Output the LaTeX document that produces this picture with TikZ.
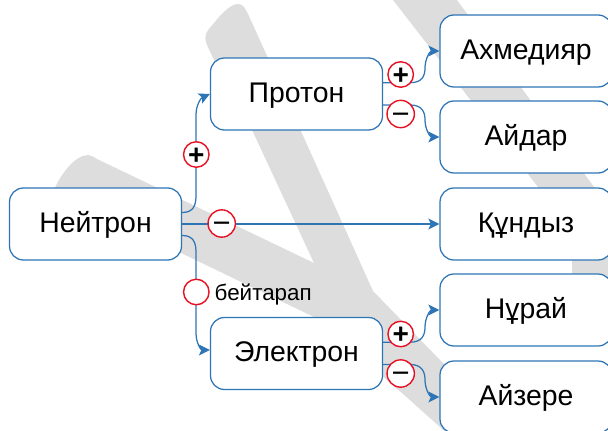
\documentclass[tikz,border=0pt]{standalone}
\usepackage{fontspec}
\setmainfont{Liberation Sans}
\usetikzlibrary{arrows.meta,calc}
\definecolor{linkblue}{HTML}{2E75B6}
\definecolor{ringred}{HTML}{E81123}
\definecolor{backgray}{HTML}{DDDDDD}
\tikzset{
  mybox/.style={draw=linkblue,fill=white,line width=1.25pt,rounded corners=14pt,minimum width=172pt,minimum height=72pt,inner sep=0pt,font=\fontsize{28.4}{30}\selectfont,text=black,text height=21pt,text depth=4.4pt},
  signcirc/.style={draw=ringred,fill=white,line width=1.4pt,circle,minimum size=25.5pt,inner sep=0pt,text=black,text height=19.5pt,text depth=0pt},
  plussign/.style={signcirc,font=\fontsize{28}{28}\selectfont\bfseries},
  minussign/.style={signcirc,font=\fontsize{31}{31}\selectfont,text height=20.5pt},
  link/.style={draw=linkblue,line width=1.25pt,-{Stealth[length=11pt,width=11pt,inset=2.5pt]}},
  plainlabel/.style={font=\fontsize{22.4}{24}\selectfont,text=black,inner sep=0pt}
}
\begin{document}
\begin{tikzpicture}[x=1pt,y=-1pt]
\useasboundingbox (0,0) rectangle (608,431);
\clip (0,0) rectangle (608,431);
% background shapes
\fill[backgray] (54,190) .. controls (60,175) and (75,155) .. (88,155)
  .. controls (91,155) and (94,157) .. (97,159) -- (314,263) -- (252,130) -- (213,58) -- (207,45)
  .. controls (203,35) and (207,31) .. (214,23) .. controls (222,13) and (231,4) .. (238,4)
  .. controls (243,4) and (245,8) .. (248,14) -- (268,58) -- (373,291) -- (440,360) -- (520,445)
  -- (460,445) -- (402,393) -- (314,317) -- (181,253) -- cycle;
\fill[backgray] (393,0) -- (457,0) -- (594,187) -- (625,230) -- (625,300) -- (572,300) -- (572,240) -- (538,187) -- cycle;
% boxes
\node[mybox] (neutron) at (95.5,224) {Нейтрон};
\node[mybox] (proton) at (296.5,94) {Протон};
\node[mybox] (electron) at (296.5,353.5) {Электрон};
\node[mybox] (akhmed) at (526,51) {Ахмедияр};
\node[mybox] (aidar) at (526,137) {Айдар};
\node[mybox] (kundyz) at (526,224) {Құндыз};
\node[mybox] (nurai) at (526,310) {Нұрай};
\node[mybox] (aizere) at (526,397) {Айзере};
% connectors
\draw[link] ($(neutron.east)+(0,-11.5)$) .. controls +(10,0) and (196,207) .. (196,196) -- (196,115)
  .. controls (196,105) and (201,98) .. (proton.west);
\draw[link] (neutron.east) -- (kundyz.west);
\draw[link] ($(neutron.east)+(0,11.5)$) .. controls +(10,0) and (196,241) .. (196,252) -- (196,333)
  .. controls (196,343) and (201,350) .. ($(electron.west)+(0,-3.5)$);
\draw[link] ($(proton.east)+(0,-11.3)$) -- +(27,0) .. controls +(12,0) and (425,76) .. (425,68)
  .. controls (425,59) and (430,51) .. (akhmed.west);
\draw[link] ($(proton.east)+(0,11)$) -- +(27,0) .. controls +(12,0) and (425,112) .. (425,120)
  .. controls (425,129) and (430,137) .. (aidar.west);
\draw[link] ($(electron.east)+(0,-11.3)$) -- +(27,0) .. controls +(12,0) and (425,335) .. (425,327)
  .. controls (425,318) and (430,310) .. (nurai.west);
\draw[link] ($(electron.east)+(0,11)$) -- +(27,0) .. controls +(12,0) and (425,372) .. (425,380)
  .. controls (425,389) and (430,397) .. (aizere.west);
% signs
\node[plussign] (s1) at (196.3,154.5) {+};
\node[minussign] (s2) at (221.7,223.5) {−};
\node[signcirc] (s3) at (196.3,292) {};
\node[plussign] (s4) at (400.7,74.5) {+};
\node[minussign] (s5) at (400.7,114) {−};
\node[plussign] (s6) at (400.7,334) {+};
\node[minussign] (s7) at (400.7,373.5) {−};
\node[plainlabel,anchor=base west] (neutral) at (214.5,300.5) {бейтарап};
\end{tikzpicture}
\end{document}
